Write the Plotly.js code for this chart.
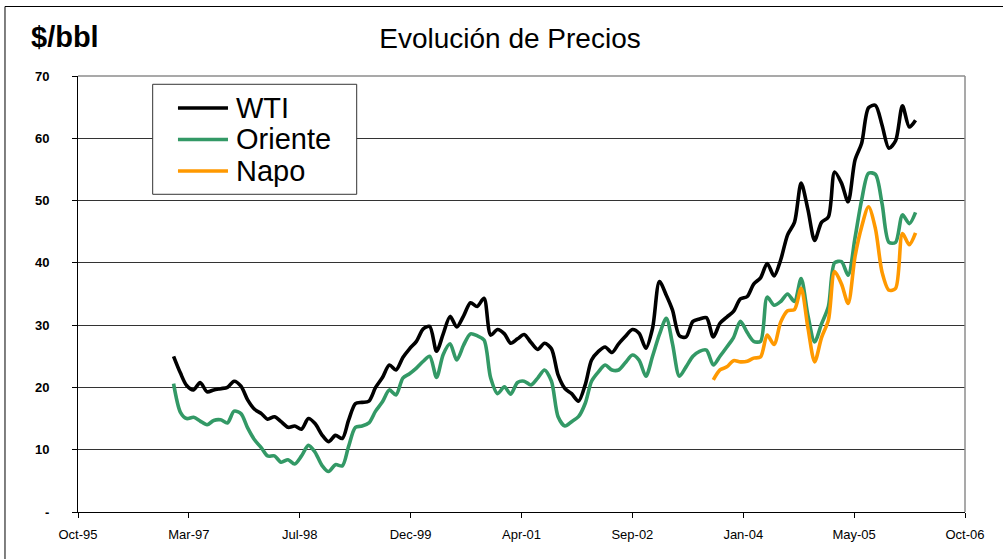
<!DOCTYPE html>
<html>
<head>
<meta charset="utf-8">
<script src="https://cdn.plot.ly/plotly-3.0.1.min.js"></script>
<style>
  html, body { margin: 0; padding: 0; background: #fff; }
  #chart { width: 1003px; height: 559px; }
</style>
</head>
<body>
<div id="chart"></div>
<script>
// ---- Data (monthly) ----
// WTI and Oriente: Jan-1997 .. Mar-2006 ; Napo: Sep-2003 .. Mar-2006
var wtiStart = [1997, 1];
var orienteStart = [1997, 1];
var napoStart = [2003, 9];

var wti = [
  25.0, 22.3, 20.3, 19.6, 20.8, 19.3, 19.6, 19.8, 20.0, 21.0, 20.2, 18.0,
  16.5, 15.8, 14.9, 15.3, 14.5, 13.6, 13.8, 13.3, 15.0, 14.2, 12.4, 11.3,
  12.3, 11.8, 14.7, 17.4, 17.6, 17.8, 20.0, 21.6, 23.6, 22.8, 24.8, 26.2,
  27.4, 29.4, 29.8, 25.8, 28.6, 31.4, 29.7, 31.5, 33.6, 33.0, 34.3, 28.4,
  29.3, 28.6, 27.1, 27.8, 28.5, 27.2, 26.1, 27.1, 26.2, 22.0, 19.8, 19.0,
  17.8, 20.5, 24.4, 25.8, 26.5, 25.6, 27.0, 28.2, 29.3, 28.7, 26.3, 29.5,
  37.0, 34.8, 32.4, 28.3, 28.1, 30.6, 31.0, 31.2, 28.1, 30.3, 31.3, 32.2,
  34.2, 34.6, 36.6, 37.6, 39.9, 37.9, 40.5, 44.5, 46.5, 52.8, 48.5, 43.6,
  46.5, 47.4, 54.6, 52.8, 49.8, 56.5, 59.2, 64.9, 65.3, 62.1, 58.4, 59.6,
  65.2, 61.8, 62.9
];

var oriente = [
  20.6, 16.0, 15.0, 15.2, 14.6, 14.0, 14.7, 14.8, 14.3, 16.2, 15.8, 13.5,
  11.6, 10.3, 9.0, 9.0, 8.0, 8.4, 7.7, 9.0, 10.7, 9.6, 7.5, 6.5,
  7.6, 7.4, 10.5, 13.6, 13.8, 14.3, 16.2, 17.7, 19.6, 18.8, 21.5, 22.2,
  23.1, 24.2, 25.0, 21.6, 25.3, 27.0, 24.4, 26.8, 28.6, 28.3, 27.6, 21.5,
  19.0, 20.1, 18.9, 20.8, 21.0, 20.4, 21.5, 22.8, 21.0, 15.3, 13.8, 14.5,
  15.3, 17.5, 21.0, 22.5, 23.6, 22.8, 22.8, 24.0, 25.2, 24.4, 21.8, 25.0,
  28.5, 31.1, 27.0, 21.8, 23.3, 25.0, 25.8, 26.0, 23.6, 25.0, 26.5, 28.0,
  30.6, 28.8, 27.4, 27.4, 34.5, 33.2, 33.8, 35.0, 33.8, 37.5, 31.5, 27.3,
  30.2, 33.0, 40.0, 40.2, 38.0, 44.0, 50.1, 54.4, 54.2, 49.5, 43.3, 43.3,
  47.7, 46.3, 48.1
];

var napo = [
  21.2, 22.8, 23.3, 24.3,
  24.1, 24.2, 24.7, 24.9, 28.4, 26.9, 30.5, 32.3, 32.5, 35.9, 29.5, 24.1,
  28.0, 30.8, 38.6, 36.6, 33.5, 41.0, 45.8, 49.0, 45.5, 38.5, 35.6, 35.9,
  44.7, 42.9, 44.8
];

var seriesNames = ['WTI', 'Oriente', 'Napo'];
var seriesColors = ['#000000', '#339966', '#FF9900'];

// x-axis: Excel date serials 35000..39000 step 500
var xTickVals = ['1995-10-28', '1997-03-11', '1998-07-24', '1999-12-06', '2001-04-19',
                 '2002-09-01', '2004-01-14', '2005-05-28', '2006-10-10'];
var xTickText = ['Oct-95', 'Mar-97', 'Jul-98', 'Dec-99', 'Apr-01',
                 'Sep-02', 'Jan-04', 'May-05', 'Oct-06'];
var yTickVals = [0, 10, 20, 30, 40, 50, 60, 70];
var yTickText = ['-', '10', '20', '30', '40', '50', '60', '70'];

// ---- helpers ----
function monthDates(start, n) {
  var out = [];
  var y = start[0], m = start[1];
  for (var i = 0; i < n; i++) {
    out.push(y + '-' + (m < 10 ? '0' + m : m) + '-01');
    m++;
    if (m > 12) { m = 1; y++; }
  }
  return out;
}

var values = [wti, oriente, napo];
var starts = [wtiStart, orienteStart, napoStart];
var traces = values.map(function (v, i) {
  return {
    type: 'scatter',
    mode: 'lines',
    name: seriesNames[i],
    x: monthDates(starts[i], v.length),
    y: v,
    line: { color: seriesColors[i], width: 3.6, shape: 'spline', smoothing: 0.8 },
    showlegend: false,
    hoverinfo: 'skip'
  };
});

var FONT = 'Liberation Sans, Arial, Helvetica, sans-serif';

// legend (drawn manually to match the reference's tight spacing)
var legX0 = 0.0842, legX1 = 0.3142, legY0 = 0.7287, legY1 = 0.981;
var legRowY = [0.9266, 0.8544, 0.7821];
var shapes = [
  // outer chart frame
  { type: 'rect', xref: 'paper', yref: 'paper', x0: -0.0823, x1: 1.06, y0: -0.14, y1: 1.1594,
    line: { color: '#000', width: 1 }, fillcolor: 'rgba(0,0,0,0)', layer: 'above' },
  // plot-area top and right border (gray)
  { type: 'line', xref: 'paper', yref: 'paper', x0: 0, x1: 1, y0: 1, y1: 1,
    line: { color: '#8c8c8c', width: 1.5 }, layer: 'above' },
  { type: 'line', xref: 'paper', yref: 'paper', x0: 1, x1: 1, y0: 0, y1: 1,
    line: { color: '#8c8c8c', width: 1.5 }, layer: 'above' },
  // legend box
  { type: 'rect', xref: 'paper', yref: 'paper', x0: legX0, x1: legX1, y0: legY0, y1: legY1,
    line: { color: '#333', width: 1 }, fillcolor: '#ffffff', layer: 'above' }
];
var annotations = [
  { xref: 'paper', yref: 'paper', x: -0.0553, y: 1.0894, xanchor: 'left', yanchor: 'middle',
    text: '<b>$/bbl</b>', showarrow: false, font: { family: FONT, size: 29, color: '#000' } }
];
seriesNames.forEach(function (name, i) {
  shapes.push({ type: 'line', xref: 'paper', yref: 'paper', x0: 0.1127, x1: 0.1691,
    y0: legRowY[i], y1: legRowY[i], line: { color: seriesColors[i], width: 3.6 }, layer: 'above' });
  annotations.push({ xref: 'paper', yref: 'paper', x: 0.1760, y: legRowY[i], xanchor: 'left',
    yanchor: 'middle', text: name, showarrow: false, font: { family: FONT, size: 29, color: '#000' } });
});

var layout = {
  width: 1003,
  height: 559,
  margin: { l: 78, r: 38, t: 76, b: 47, pad: 0 },
  paper_bgcolor: '#ffffff',
  plot_bgcolor: '#ffffff',
  font: { family: FONT, color: '#000' },
  title: {
    text: 'Evolución de Precios',
    x: 510 / 1003, xanchor: 'center',
    y: 1 - 38 / 559, yanchor: 'middle',
    font: { family: FONT, size: 28, color: '#000' }
  },
  showlegend: false,
  xaxis: {
    type: 'date',
    range: ['1995-10-28', '2006-10-10'],
    tickmode: 'array',
    tickvals: xTickVals,
    ticktext: xTickText,
    ticks: 'outside', ticklen: 5, tickcolor: '#000', tickwidth: 1,
    ticklabelstandoff: 5,
    showline: true, linecolor: '#000', linewidth: 1,
    showgrid: false, zeroline: false,
    tickfont: { family: FONT, size: 13, color: '#000' },
    fixedrange: true
  },
  yaxis: {
    range: [0, 70],
    tickmode: 'array',
    tickvals: yTickVals,
    ticktext: yTickText,
    ticks: 'outside', ticklen: 5, tickcolor: '#000', tickwidth: 1,
    ticklabelstandoff: 20,
    showline: true, linecolor: '#000', linewidth: 1,
    showgrid: true, gridcolor: '#333333', gridwidth: 1,
    zeroline: false,
    tickfont: { family: FONT, size: 13, color: '#000', weight: 'bold' },
    fixedrange: true
  },
  shapes: shapes,
  annotations: annotations
};

Plotly.newPlot('chart', traces, layout, { staticPlot: true, displayModeBar: false });
</script>
</body>
</html>
